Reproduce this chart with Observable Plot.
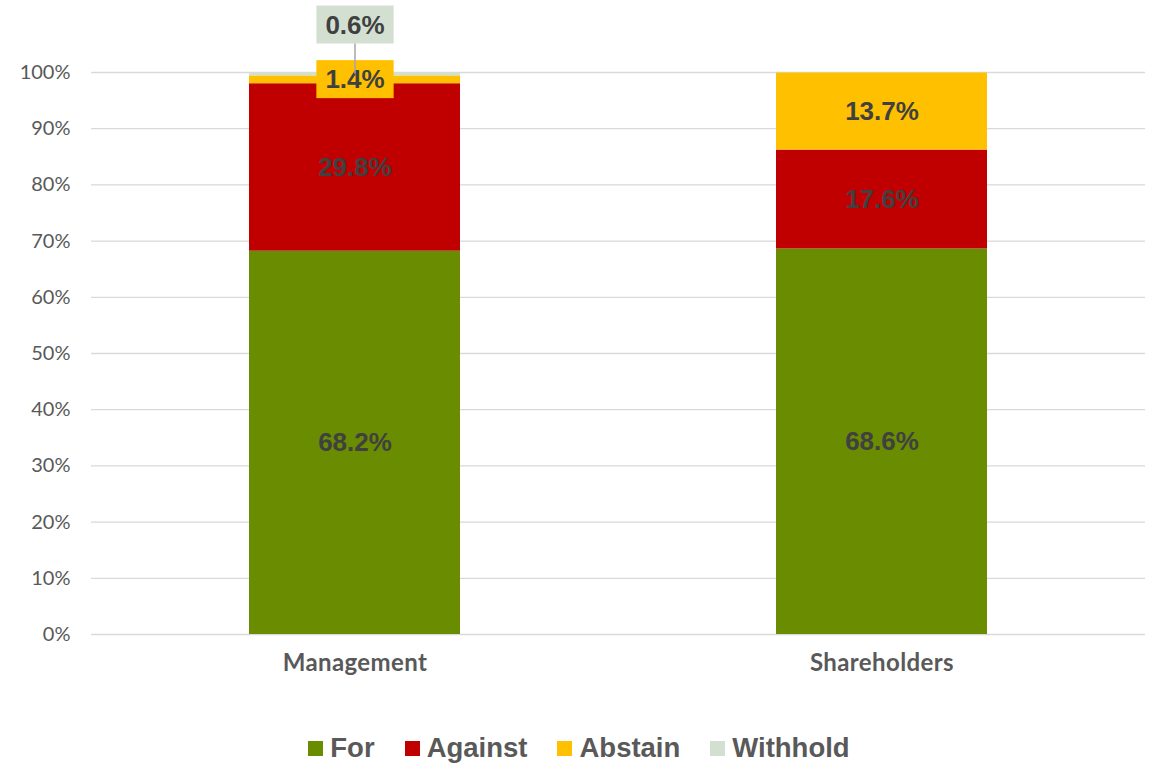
<!DOCTYPE html>
<html>
<head>
<meta charset="utf-8">
<script src="https://cdn.jsdelivr.net/npm/d3@7"></script>
<script src="https://cdn.jsdelivr.net/npm/@observablehq/plot@0.6"></script>
<style>
  html, body { margin: 0; padding: 0; background: #fff; }
  #chart { width: 1158px; height: 700px; }
  #legend {
    width: 1158px; height: 66px; display: flex; justify-content: center; align-items: center;
    padding-top: 30px; box-sizing: border-box;
    font-family: "Liberation Sans", Arial, sans-serif; font-weight: bold; font-size: 27.5px; color: #595959;
  }
  .item { display: flex; align-items: center; margin: 0 15px; }
  .sw { width: 15px; height: 15px; margin-right: 7px; }
  #err { position: absolute; left: 500px; top: 300px; color: blue; font: 14px sans-serif; }
</style>
</head>
<body>
<div id="chart"></div>
<div id="legend"></div>
<div id="err"></div>
<script>
const groups = ["Management", "Shareholders"];
const types = ["For", "Against", "Abstain", "Withhold"];
const colors = ["#6a8c00", "#c00000", "#ffc000", "#d3e0d1"];
const managementValues = [68.2, 29.8, 1.4, 0.6];
const shareholderValues = [68.6, 17.6, 13.7, 0];
const yTicks = [0, 10, 20, 30, 40, 50, 60, 70, 80, 90, 100];

const rows = [];
types.forEach((t, i) => rows.push({group: "Management", type: t, value: managementValues[i]}));
types.forEach((t, i) => rows.push({group: "Shareholders", type: t, value: shareholderValues[i]}));

const fmt = v => v.toFixed(1) + "%";
const labelFont = {fill: "#404040", fontSize: 26, fontWeight: "bold", fontFamily: "Liberation Sans, Arial, sans-serif"};

const plot = Plot.plot({
  width: 1158, height: 700,
  marginLeft: 91, marginRight: 13, marginTop: 72, marginBottom: 66,
  style: {fontFamily: "Lato, 'Open Sans', sans-serif", fontSize: "20px", color: "#595959", background: "#fff"},
  x: {domain: groups, paddingInner: 0.6, paddingOuter: 0.3, label: null},
  y: {domain: [0, 100], label: null},
  color: {domain: types, range: colors},
  marks: [
    Plot.gridY(yTicks, {stroke: "#d9d9d9", strokeOpacity: 1, strokeWidth: 1.3}),
    Plot.barY(rows, Plot.stackY({x: "group", y: "value", z: "type", fill: "type"})),
    Plot.text(rows, Plot.stackY({x: "group", y: "value", z: "type",
      text: d => (d.value > 0 && d.type !== "Withhold") ? fmt(d.value) : null, ...labelFont})),
    Plot.text(rows, Plot.stackY({x: "group", y: "value", z: "type", dy: -49,
      text: d => (d.value > 0 && d.type === "Withhold") ? fmt(d.value) : null, ...labelFont})),
    Plot.axisY(yTicks, {tickSize: 0, tickPadding: 21, tickFormat: d => d + "%", label: null, fontSize: 20}),
    Plot.axisX({tickSize: 0, tickPadding: 19, label: null, fontSize: 24, fontWeight: "bold"})
  ]
});
document.getElementById("chart").appendChild(plot);
d3.select(plot).selectAll("g[aria-label='x-axis tick label'] text").style("letter-spacing", "0.4px");

try {
  // label boxes for the small Management labels
  const svg = d3.select(plot);
  const boxFill = {"1.4%": colors[2], "0.6%": colors[3]};
  let withholdBox = null;
  svg.selectAll("text").each(function() {
    const t = this.textContent;
    if (this.childElementCount === 0 && boxFill[t] && this.closest("g[aria-label='text']")) {
      const b = this.getBBox();
      const m = this.getCTM();
      const parentM = this.parentNode.getCTM();
      const dx = m.e - parentM.e, dy = m.f - parentM.f;
      const rect = document.createElementNS("http://www.w3.org/2000/svg", "rect");
      const x = b.x + dx - 9, y = b.y + dy - 4, w = b.width + 18, h = b.height + 8;
      rect.setAttribute("x", x); rect.setAttribute("y", y);
      rect.setAttribute("width", w); rect.setAttribute("height", h);
      rect.setAttribute("fill", boxFill[t]);
      this.parentNode.insertBefore(rect, this);
      if (t === "0.6%") {
        const pm = this.parentNode.getCTM();
        const sm = plot.getCTM();
        withholdBox = {cx: x + w / 2 + (pm.e - sm.e), bottom: y + h + (pm.f - sm.f)};
      }
    }
  });
  if (withholdBox) {
    const ys = plot.scale("y");
    const yScale = d3.scaleLinear(ys.domain, ys.range);
    const mid = d3.sum(managementValues.slice(0, 3)) + managementValues[3] / 2;
    const yMid = yScale(mid);
    const line = document.createElementNS("http://www.w3.org/2000/svg", "line");
    line.setAttribute("x1", withholdBox.cx); line.setAttribute("x2", withholdBox.cx);
    line.setAttribute("y1", withholdBox.bottom); line.setAttribute("y2", yMid);
    line.setAttribute("stroke", "#a6a6a6"); line.setAttribute("stroke-width", 1.5);
    plot.appendChild(line);
  }
} catch (e) {
  document.getElementById("err").textContent = String(e);
}

// legend
const legend = d3.select("#legend");
types.forEach((t, i) => {
  const item = legend.append("div").attr("class", "item");
  item.append("div").attr("class", "sw").style("background", colors[i]);
  item.append("span").text(t);
});
</script>
</body>
</html>
